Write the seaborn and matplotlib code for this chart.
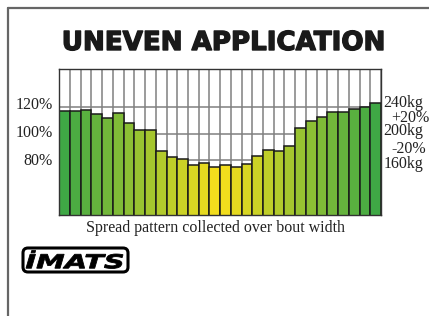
import matplotlib
matplotlib.use("Agg")
import matplotlib.pyplot as plt
from matplotlib.lines import Line2D
from matplotlib.textpath import TextPath
from matplotlib.patches import PathPatch, FancyBboxPatch
from matplotlib.font_manager import FontProperties
from matplotlib.transforms import Affine2D, IdentityTransform
import matplotlib.patheffects as pe
import seaborn as sns
import numpy as np
import pandas as pd
from matplotlib.colors import to_rgb

# ---- data ----
positions = list(range(1, 31))
coverage_pct = [117.4, 117.0, 117.7, 115.2, 111.7, 115.5, 108.2, 102.6, 102.6, 86.8,
                82.7, 81.0, 76.2, 77.7, 74.7, 76.5, 75.2, 77.0, 83.0, 87.8,
                87.2, 91.0, 104.4, 109.4, 112.5, 116.2, 116.2, 118.5, 120.2, 123.2]
left_labels = ["120%", "100%", "80%"]
left_label_vals = [120, 100, 80]
right_labels = ["240kg", "+20%", "200kg", "-20%", "160kg"]
title = "UNEVEN APPLICATION"
caption = "Spread pattern collected over bout width"
logo = "İMATS"

df = pd.DataFrame({"pos": positions, "pct": coverage_pct})

# colour gradient: green at the edges -> yellow at the centre
green = np.array(to_rgb("#3fa845"))
yellow = np.array(to_rgb("#f8df1c"))
n = len(positions)
centre = (n - 1) / 2
colors = []
for i in range(n):
    t = 1 - abs(i - centre) / centre
    colors.append(tuple(green * (1 - t) + yellow * t))

W, H = 429, 316
fig = plt.figure(figsize=(W / 100, H / 100), dpi=100)
sns.set_style("white")
plt.rcParams["font.family"] = ["DejaVu Sans"]

ax = fig.add_axes([59.3 / W, 1 - 215 / H, (381 - 59.3) / W, (215 - 69.3) / H])
sns.barplot(data=df, x="pos", y="pct", hue="pos", palette=colors, legend=False,
            width=1.0, edgecolor="#1a1a1a", linewidth=1.1, saturation=1, ax=ax)
ax.set_xlim(-0.5, n - 0.5)
ax.set_ylim(38.7, 148.7)
ax.set_axisbelow(True)

# grid: vertical at bar boundaries, horizontal at 80/100/120
ax.set_xticks([])
ax.set_xticks(np.arange(-0.5, n, 1.0), minor=True)
ax.set_yticks(left_label_vals)
ax.set_yticklabels([])
ax.tick_params(axis="both", which="both", length=0)
ax.grid(True, which="minor", axis="x", color="#808080", linewidth=1.1)
ax.grid(True, which="major", axis="y", color="#808080", linewidth=1.1)
ax.set_xlabel("")
ax.set_ylabel("")
for s in ax.spines.values():
    s.set_color("#333333")
    s.set_linewidth(1.0)

serif = ["Liberation Serif", "DejaVu Serif"]
fs = 11.5

# left labels (baseline pixel y)
for lab, by in zip(left_labels, [108.7, 137.3, 164.7]):
    fig.text(52.5 / W, 1 - by / H, lab, ha="right", va="baseline",
             fontsize=fs, family=serif, color="#222222")

# right labels
right_pos = [(383.3, 107.2, "left"), (429, 121.5, "right"), (383.3, 135.2, "left"),
             (426, 153.5, "right"), (383.3, 167.5, "left")]
for lab, (x, by, ha) in zip(right_labels, right_pos):
    fig.text(x / W, 1 - by / H, lab, ha=ha, va="baseline",
             fontsize=fs, family=serif, color="#222222")

# title
fig.text(223.5 / W, 1 - 50 / H, title, ha="center", va="baseline",
         fontsize=18.8, fontweight="bold", family=["DejaVu Sans"], color="#1a1a1a",
         path_effects=[pe.withStroke(linewidth=1.0, foreground="#1a1a1a")])

# caption
fig.text(215.8 / W, 1 - 232 / H, caption, ha="center", va="baseline",
         fontsize=fs, family=serif, color="#222222")

# logo: rounded box with stretched heavy italic text
box = FancyBboxPatch((23, H - 272), 105, 24,
                     boxstyle="round,pad=0,rounding_size=5",
                     fc="white", ec="black", lw=2.2, transform=IdentityTransform())
fig.add_artist(box)
tp = TextPath((0, 0), logo, size=20,
              prop=FontProperties(family="DejaVu Sans", weight="bold", style="italic"))
ext = tp.get_extents()
x0, x1, y0t, y1t = 26, 123, H - 268.5, H - 250.5
sx = (x1 - x0) / ext.width
sy = (y1t - y0t) / ext.height
tr = Affine2D().translate(-ext.x0, -ext.y0).scale(sx, sy).translate(x0, y0t)
logo_patch = PathPatch(tr.transform_path(tp), fc="black", ec="black", lw=0.6,
                       transform=IdentityTransform())
fig.add_artist(logo_patch)

# page border (left and top)
fig.add_artist(Line2D([8 / W, 8 / W], [0, 1 - 8 / H], color="#666666", lw=1.6))
fig.add_artist(Line2D([8 / W, 1], [1 - 8 / H, 1 - 8 / H], color="#666666", lw=1.6))

fig.savefig("out.png", dpi=100)
